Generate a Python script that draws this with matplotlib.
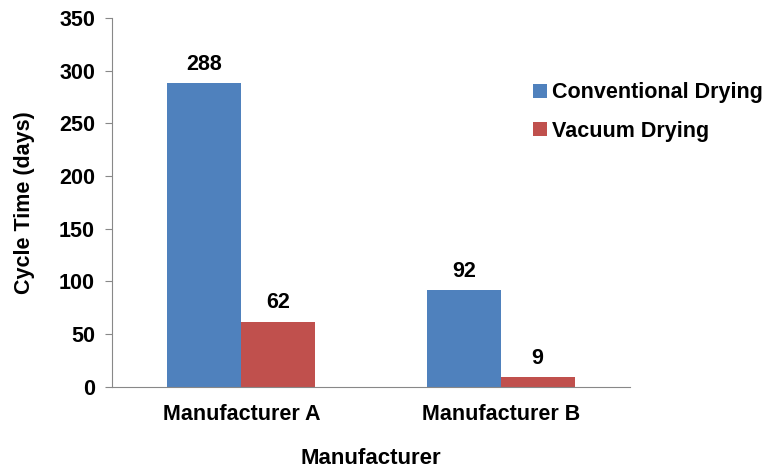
import numpy as np
import matplotlib.pyplot as plt

plt.rcParams['font.family'] = ['Liberation Sans', 'DejaVu Sans']
plt.rcParams['font.weight'] = 'bold'

manufacturers = ['Manufacturer A', 'Manufacturer B']
conventional = [288, 92]
vacuum = [62, 9]
series_names = ['Conventional Drying', 'Vacuum Drying']
colors = ['#4F81BD', '#C0504D']

fig = plt.figure(figsize=(7.65, 4.69), dpi=100)
ax = fig.add_axes([0.146, 0.175, 0.678, 0.787])

x = np.arange(len(manufacturers))
w = 0.285
b1 = ax.bar(x - w/2, conventional, w, color=colors[0], label=series_names[0])
b2 = ax.bar(x + w/2, vacuum, w, color=colors[1], label=series_names[1])

for bars in (b1, b2):
    for r in bars:
        ax.annotate(f'{int(r.get_height())}', (r.get_x() + r.get_width()/2, r.get_height()),
                    xytext=(0, 6), textcoords='offset points', ha='center', va='bottom',
                    fontsize=15.5, fontweight='bold')

ax.set_xlim(-0.5, 1.5)
ax.set_ylim(0, 350)
ax.set_yticks(np.arange(0, 351, 50))
ax.set_xticks(x)
ax.set_xticklabels(manufacturers, fontsize=15.5, fontweight='bold')
ax.tick_params(axis='y', labelsize=15.5, length=5, color='#888888', pad=7)
ax.tick_params(axis='x', length=0, pad=12)
for s in ['top', 'right']:
    ax.spines[s].set_visible(False)
for s in ['left', 'bottom']:
    ax.spines[s].set_color('#888888')

ax.set_ylabel('Cycle Time (days)', fontsize=15.5, fontweight='bold')
ax.yaxis.set_label_coords(-0.147, 0.5)
ax.set_xlabel('Manufacturer', fontsize=16, fontweight='bold', labelpad=17)

ax.legend(loc='center left', bbox_to_anchor=(0.795, 0.745), frameon=False,
          prop={'size': 15.5, 'weight': 'bold'}, handlelength=0.65, handleheight=0.65,
          handletextpad=0.25, labelspacing=0.8, borderaxespad=0)

fig.savefig('out.png', dpi=100)
